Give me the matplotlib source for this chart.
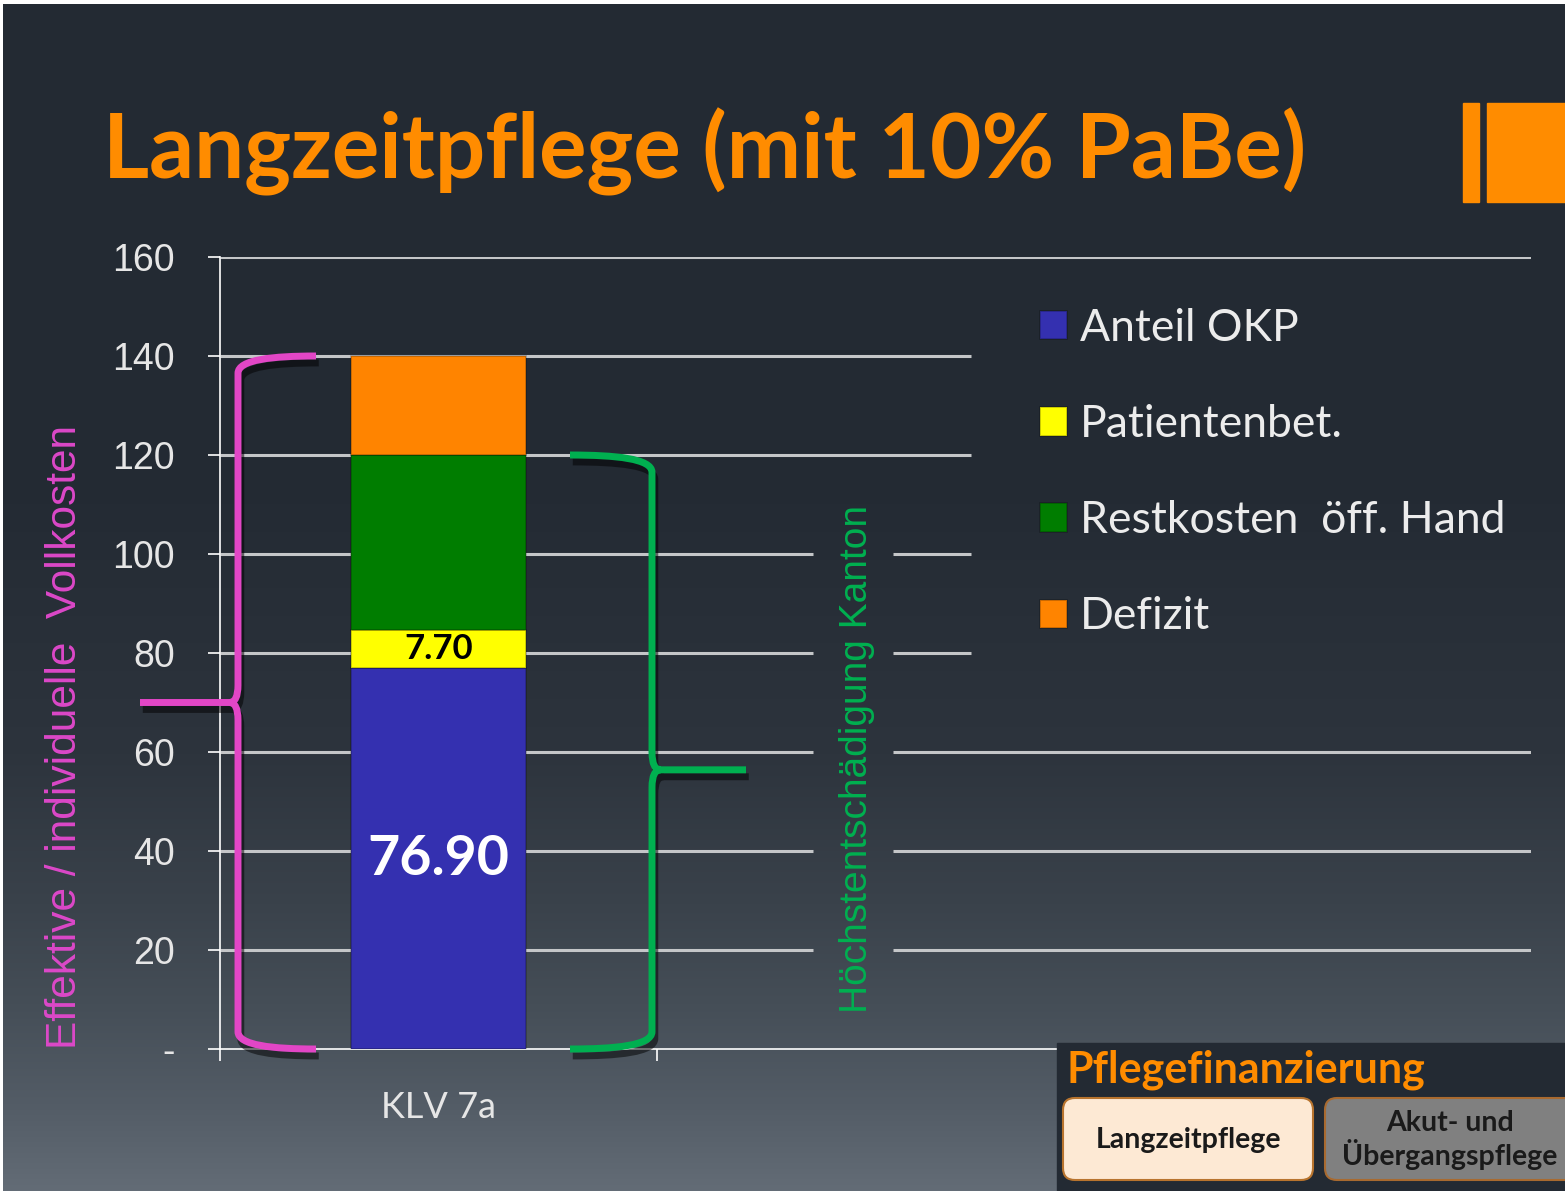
import numpy as np
import matplotlib
matplotlib.use("Agg")
import matplotlib.pyplot as plt
import matplotlib.patheffects as pe
from matplotlib.colors import to_rgb
from matplotlib.patches import Rectangle, FancyBboxPatch, PathPatch
from matplotlib.path import Path
from matplotlib.ticker import FixedLocator, FuncFormatter

plt.rcParams['font.family'] = ['Liberation Sans', 'DejaVu Sans']

# --- data ---
categories = ["KLV 7a"]
series_names = ["Anteil OKP", "Patientenbet.", "Restkosten  öff. Hand", "Defizit"]
anteil_okp = [76.90]
patientenbet = [7.70]
restkosten = [35.40]
defizit = [20.00]
series_colors = ["#3430b0", "#ffff00", "#007d00", "#ff8400"]
y_ticks = [0, 20, 40, 60, 80, 100, 120, 140, 160]

title = "Langzeitpflege (mit 10% PaBe)"
left_label = "Effektive / individuelle  Vollkosten"
right_label = "Höchstentschädigung Kanton"

W, H = 1565, 1191
fig = plt.figure(figsize=(W / 100, H / 100), dpi=100, facecolor="white")

# --- slide background (dark, lighter towards the bottom) ---
bg = fig.add_axes([3 / W, 0, (W - 3) / W, (H - 4) / H], zorder=-10)
stops_y = [0, 500, 750, 900, 1000, 1100, 1191]
stops_c = ["#232a33", "#242b34", "#2d343d", "#3a424b", "#454e57", "#535c66", "#646d77"]
rows = np.arange(H - 4)
rgb = np.array([to_rgb(c) for c in stops_c])
grad = np.stack([np.interp(rows, stops_y, rgb[:, k]) for k in range(3)], axis=-1)
bg.imshow(grad[:, None, :], aspect="auto", interpolation="bilinear")
bg.axis("off")

# --- main chart ---
ax = fig.add_axes([220 / W, 142 / H, 1311 / W, 792 / H])
ax.set_facecolor("none")
ax.set_xlim(-0.5, 2.5)
ax.set_ylim(0, 160)

x = np.arange(len(categories))
bottom = np.zeros(len(categories))
containers = []
for name, vals, color in zip(series_names, [anteil_okp, patientenbet, restkosten, defizit], series_colors):
    c = ax.bar(x, vals, 0.4, bottom=bottom, color=color, edgecolor=(0, 0, 0, 0.25),
               linewidth=1.2, label=name, zorder=3)
    containers.append(c)
    bottom = bottom + np.array(vals)

# gridlines, broken where the legend and the rotated text sit
legend_cut = -0.5 + (971 - 220) / 437
gap = (-0.5 + (813 - 220) / 437, -0.5 + (893 - 220) / 437)
for v in y_ticks[1:]:
    x_end = legend_cut if 80 <= v <= 140 else 2.5
    if 20 <= v <= 100:
        segs = [(-0.5, gap[0]), (gap[1], x_end)]
    else:
        segs = [(-0.5, x_end)]
    for a, b in segs:
        ax.hlines(v, a, b, color="#c4c6c8", lw=2.2, zorder=1)

ax.yaxis.set_major_locator(FixedLocator(y_ticks))
ax.yaxis.set_major_formatter(FuncFormatter(lambda v, p: "-" if v == 0 else f"{v:.0f}"))
ax.tick_params(axis="y", direction="out", length=8.6, width=1.2, color="white",
               labelcolor="#e6e6e6", labelsize=27, pad=24)
ax.set_xticks(x)
ax.set_xticklabels(categories, family="Lato", size=26, color="#e6e6e6")
ax.tick_params(axis="x", which="major", length=0, pad=30)
ax.set_xticks([-0.5, 0.5, 1.5, 2.5], minor=True)
ax.tick_params(axis="x", which="minor", direction="out", length=8.6, width=1.2, color="white")
for s in ["top", "right"]:
    ax.spines[s].set_visible(False)
for s in ["left", "bottom"]:
    ax.spines[s].set_color("white")
    ax.spines[s].set_linewidth(1.2)

ax.bar_label(containers[0], labels=[f"{v:.2f}" for v in anteil_okp], label_type="center",
             color="white", family="Lato", weight="bold", size=40)
ax.bar_label(containers[1], labels=[f"{v:.2f}" for v in patientenbet], label_type="center",
             color="black", family="Lato", weight="bold", size=25)


def brace(ax, x_v, x_arm, x_tip, y0, y1, y_tip, color):
    """Curly brace: vertical at x_v, arms to x_arm at y0/y1, point at (x_tip, y_tip)."""
    r = 3.5
    s = 1 if x_tip < x_v else -1
    d = 0.02 * s
    k = (x_arm - x_v) * 0.45
    verts = [(x_arm, y1), (x_v + k, y1), (x_v, y1 - r * 0.2), (x_v, y1 - r),
             (x_v, y_tip + r),
             (x_v, y_tip), (x_v - d, y_tip),
             (x_tip, y_tip),
             (x_v - d, y_tip), (x_v, y_tip), (x_v, y_tip - r),
             (x_v, y0 + r),
             (x_v, y0 + r * 0.2), (x_v + k, y0), (x_arm, y0)]
    codes = [Path.MOVETO, Path.CURVE4, Path.CURVE4, Path.CURVE4,
             Path.LINETO,
             Path.CURVE3, Path.CURVE3,
             Path.LINETO,
             Path.MOVETO, Path.CURVE3, Path.CURVE3,
             Path.LINETO,
             Path.CURVE4, Path.CURVE4, Path.CURVE4]
    p = PathPatch(Path(verts, codes), fill=False, edgecolor=color, lw=5, capstyle="butt",
                  joinstyle="round", clip_on=False, zorder=4)
    p.set_path_effects([pe.SimpleLineShadow(offset=(2, -5), shadow_color="black", alpha=0.5),
                        pe.Normal()])
    ax.add_patch(p)


def px2x(px):
    return -0.5 + (px - 220) / 437


total = anteil_okp[0] + patientenbet[0] + restkosten[0] + defizit[0]
kanton = anteil_okp[0] + patientenbet[0] + restkosten[0]
brace(ax, px2x(238), px2x(316), px2x(140), 0, total, total / 2, "#e246c6")
brace(ax, px2x(652), px2x(570), px2x(746), 0, kanton, kanton * 0.47, "#00b050")

ax.text(px2x(857), 58.6, right_label, rotation=90, ha="center", va="center",
        color="#00b050", size=28)
fig.text(65 / W, 1 - 737 / H, left_label, rotation=90, ha="center", va="center",
         color="#dc48c8", size=30.5)

ax.legend(handles=containers, labels=series_names, loc="upper left",
          bbox_to_anchor=(1040 / W, 1 - 308 / H), bbox_transform=fig.transFigure,
          frameon=False, prop={"family": "Lato", "size": 32}, labelcolor="#ececec",
          handlelength=0.6, handleheight=0.6, handletextpad=0.3, labelspacing=1.24,
          borderpad=0, borderaxespad=0)

# --- slide decorations in pixel coordinates ---
ov = fig.add_axes([0, 0, 1, 1], zorder=5)
ov.set_xlim(0, W)
ov.set_ylim(H, 0)
ov.axis("off")

ov.text(103, 178, title, family="Lato", weight="bold", size=64, color="#ff8c00", va="baseline")
ov.add_patch(Rectangle((1463, 103), 16, 99, color="#ff8c00"))
ov.add_patch(Rectangle((1487, 103), 80, 99, color="#ff8c00"))

ov.add_patch(Rectangle((1057, 1043), 510, 150, color="#232a33"))
ov.text(1066, 1082, "Pflegefinanzierung", family="Lato", weight="bold", size=31,
        color="#ff8c00", va="baseline")
ov.add_patch(FancyBboxPatch((1063, 1098), 250, 82, boxstyle="round,pad=0,rounding_size=12",
                            fc="#fde9d4", ec="#b8742e", lw=1.5))
ov.text(1188, 1140, "Langzeitpflege", family="Lato", weight="bold", size=20.5,
        color="#1a1a1a", ha="center", va="center")
ov.add_patch(FancyBboxPatch((1325, 1098), 260, 82, boxstyle="round,pad=0,rounding_size=12",
                            fc="#808080", ec="#a86a30", lw=1.5))
ov.text(1450, 1140, "Akut- und\nÜbergangspflege", family="Lato", weight="bold", size=20.5,
        color="#1a1a1a", ha="center", va="center", linespacing=1.1)

fig.savefig("out.png", dpi=100, facecolor=fig.get_facecolor())
